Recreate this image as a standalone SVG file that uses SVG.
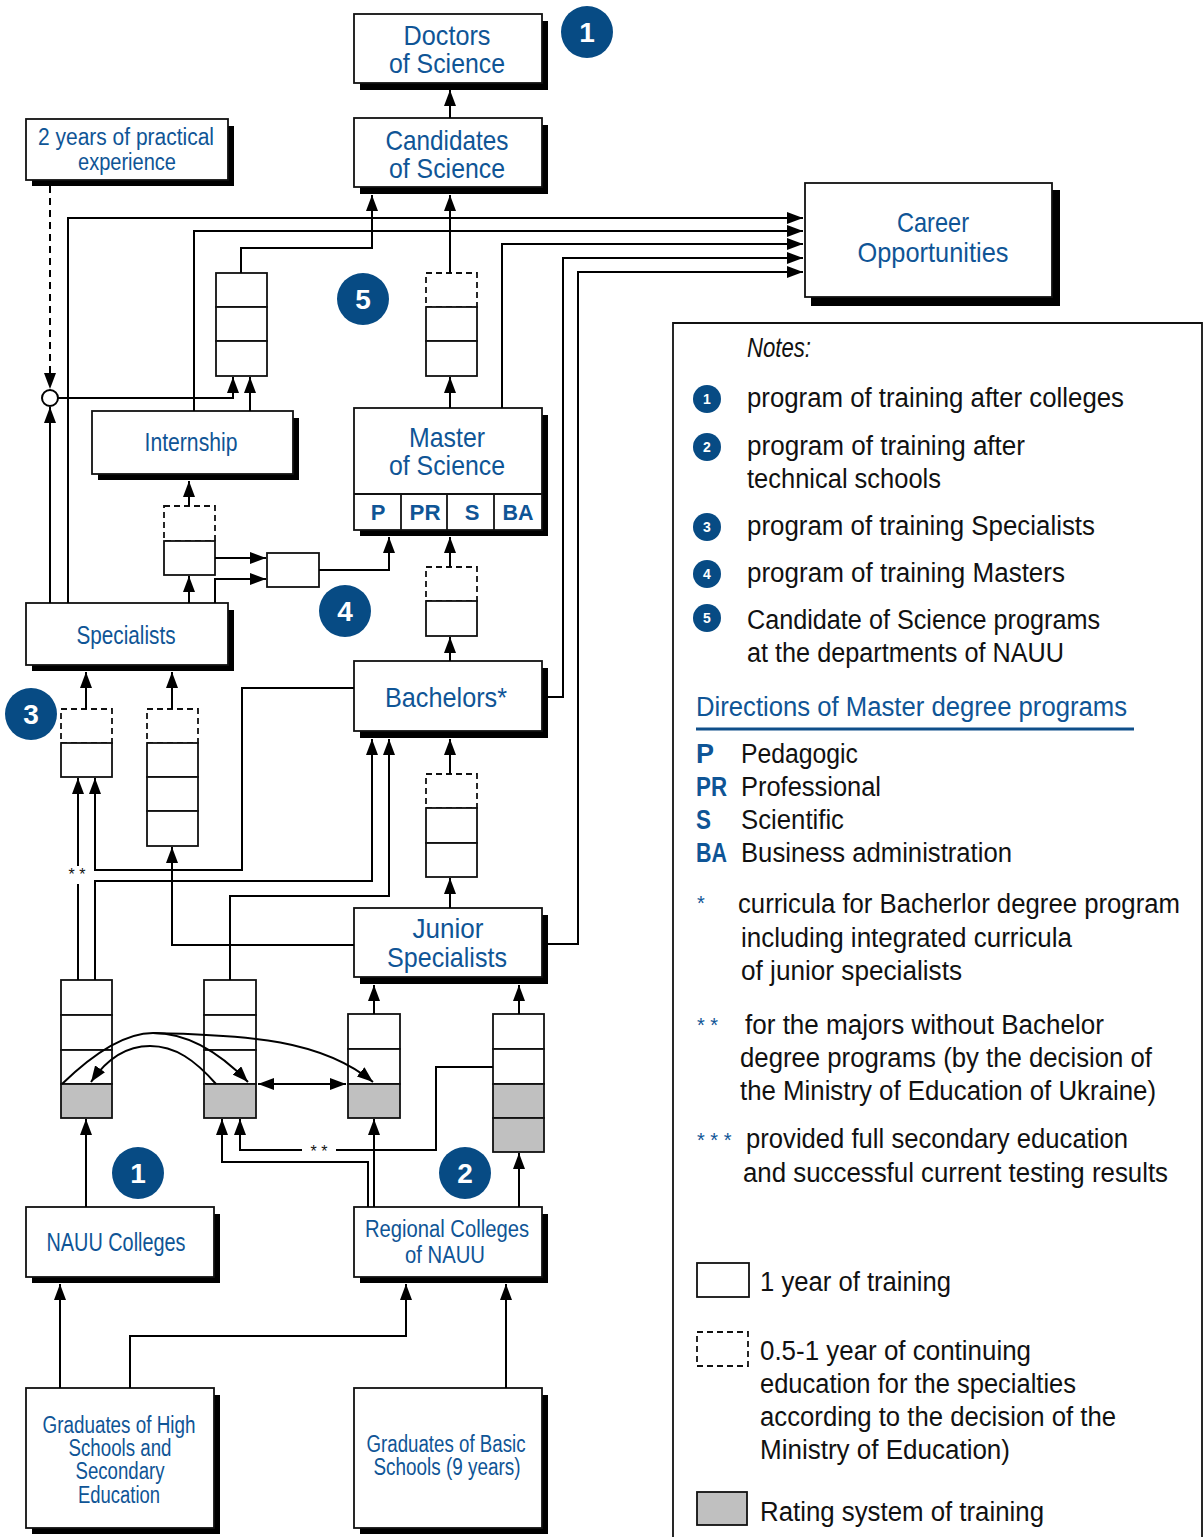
<svg xmlns="http://www.w3.org/2000/svg" width="1204" height="1537" viewBox="0 0 1204 1537">
<style>
.bg{fill:#fff}
.box{fill:#fff;stroke:#111;stroke-width:1.8}
.sh{fill:#000}
.cell{fill:#fff;stroke:#111;stroke-width:1.8}
.dcell{fill:#fff;stroke:#111;stroke-width:1.8;stroke-dasharray:6 4}
.gcell{fill:#c0c0c0;stroke:#111;stroke-width:1.8}
.ln{fill:none;stroke:#000;stroke-width:2}
.arr{marker-end:url(#ah)}
.nt{font-family:"Liberation Sans",Arial,sans-serif;fill:#0f5596;text-anchor:middle}
.big{font-size:28px}
.mid{font-size:25px}
.sm{font-size:23px}
.bd{font-family:"Liberation Sans",Arial,sans-serif;font-weight:bold;fill:#0f5596;text-anchor:middle;font-size:22px}
.badge{fill:#074b84}
.bt{font-family:"Liberation Sans",Arial,sans-serif;font-weight:bold;fill:#fff;text-anchor:middle;font-size:28px}
.sbt{font-family:"Liberation Sans",Arial,sans-serif;font-weight:bold;fill:#fff;text-anchor:middle;font-size:14px}
.note{font-family:"Liberation Sans",Arial,sans-serif;fill:#111;font-size:27px}
.bnote{font-family:"Liberation Sans",Arial,sans-serif;fill:#0f5596;font-size:27px}
.bbold{font-family:"Liberation Sans",Arial,sans-serif;fill:#0f5596;font-size:27px;font-weight:bold}
.star{font-family:"Liberation Sans",Arial,sans-serif;font-size:16px;fill:#111;text-anchor:middle}
.bstar{font-family:"Liberation Sans",Arial,sans-serif;font-size:20px;fill:#0f5596}
</style>
<defs>
<marker id="ah" markerUnits="userSpaceOnUse" markerWidth="16" markerHeight="12" refX="16" refY="6" orient="auto">
<path d="M0,0 L16,6 L0,12 z" fill="#000"/>
</marker>
<marker id="ahs" markerUnits="userSpaceOnUse" markerWidth="16" markerHeight="12" refX="16" refY="6" orient="auto-start-reverse">
<path d="M0,0 L16,6 L0,12 z" fill="#000"/>
</marker>
</defs>
<rect class="bg" x="0" y="0" width="1204" height="1537"/>

<!-- nodes -->
<g id="doctors">
<rect class="sh" x="360" y="21" width="188" height="69"/>
<rect class="box" x="354" y="14" width="188" height="69"/>
<text class="nt big" x="447" y="45" textLength="87" lengthAdjust="spacingAndGlyphs">Doctors</text>
<text class="nt big" x="447" y="73" textLength="116" lengthAdjust="spacingAndGlyphs">of Science</text>
</g>
<g id="candidates">
<rect class="sh" x="360" y="125" width="188" height="69"/>
<rect class="box" x="354" y="118" width="188" height="69"/>
<text class="nt big" x="447" y="150" textLength="123" lengthAdjust="spacingAndGlyphs">Candidates</text>
<text class="nt big" x="447" y="178" textLength="116" lengthAdjust="spacingAndGlyphs">of Science</text>
</g>
<g id="practical">
<rect class="sh" x="32" y="126" width="202" height="60"/>
<rect class="box" x="26" y="119" width="202" height="61"/>
<text class="nt sm" x="126" y="145" textLength="176" lengthAdjust="spacingAndGlyphs">2 years of practical</text>
<text class="nt sm" x="127" y="170" textLength="98" lengthAdjust="spacingAndGlyphs">experience</text>
</g>
<g id="career">
<rect class="sh" x="811" y="190" width="249" height="116"/>
<rect class="box" x="805" y="183" width="247" height="114"/>
<text class="nt big" x="933" y="232" textLength="72" lengthAdjust="spacingAndGlyphs">Career</text>
<text class="nt big" x="933" y="262" textLength="151" lengthAdjust="spacingAndGlyphs">Opportunities</text>
</g>
<g id="stack-cand-left">
<rect class="cell" x="216" y="273" width="51" height="34"/>
<rect class="cell" x="216" y="307" width="51" height="34"/>
<rect class="cell" x="216" y="341" width="51" height="35"/>
</g>
<g id="stack-cand-right">
<rect class="dcell" x="426" y="273" width="51" height="34"/>
<rect class="cell" x="426" y="307" width="51" height="34"/>
<rect class="cell" x="426" y="341" width="51" height="35"/>
</g>
<g id="internship">
<rect class="sh" x="98" y="418" width="201" height="62"/>
<rect class="box" x="92" y="411" width="201" height="63"/>
<text class="nt mid" x="191" y="451" textLength="93" lengthAdjust="spacingAndGlyphs">Internship</text>
</g>
<g id="master">
<rect class="sh" x="360" y="415" width="188" height="121"/>
<rect class="box" x="354" y="408" width="188" height="122"/>
<line x1="354" y1="494" x2="542" y2="494" stroke="#111" stroke-width="1.8"/>
<line x1="401" y1="494" x2="401" y2="530" stroke="#111" stroke-width="1.8"/>
<line x1="447" y1="494" x2="447" y2="530" stroke="#111" stroke-width="1.8"/>
<line x1="494" y1="494" x2="494" y2="530" stroke="#111" stroke-width="1.8"/>
<text class="nt big" x="447" y="447" textLength="76" lengthAdjust="spacingAndGlyphs">Master</text>
<text class="nt big" x="447" y="475" textLength="116" lengthAdjust="spacingAndGlyphs">of Science</text>
<text class="bd" x="378" y="520">P</text>
<text class="bd" x="425" y="520" textLength="31" lengthAdjust="spacingAndGlyphs">PR</text>
<text class="bd" x="472" y="520">S</text>
<text class="bd" x="518" y="520" textLength="31" lengthAdjust="spacingAndGlyphs">BA</text>
</g>
<g id="stack-intern">
<rect class="dcell" x="164" y="506" width="51" height="35"/>
<rect class="cell" x="164" y="541" width="51" height="34"/>
</g>
<g id="box-master">
<rect class="cell" x="267" y="553" width="52" height="34"/>
</g>
<g id="stack-master">
<rect class="dcell" x="426" y="567" width="51" height="34"/>
<rect class="cell" x="426" y="601" width="51" height="35"/>
</g>
<g id="specialists">
<rect class="sh" x="32" y="610" width="202" height="61"/>
<rect class="box" x="26" y="603" width="202" height="62"/>
<text class="nt mid" x="126" y="644" textLength="99" lengthAdjust="spacingAndGlyphs">Specialists</text>
</g>
<g id="bachelors">
<rect class="sh" x="360" y="668" width="188" height="70"/>
<rect class="box" x="354" y="661" width="188" height="70"/>
<text class="nt big" x="446" y="707" textLength="122" lengthAdjust="spacingAndGlyphs">Bachelors*</text>
</g>
<g id="stack-spec-a">
<rect class="dcell" x="61" y="709" width="51" height="34"/>
<rect class="cell" x="61" y="743" width="51" height="34"/>
</g>
<g id="stack-spec-b">
<rect class="dcell" x="147" y="709" width="51" height="34"/>
<rect class="cell" x="147" y="743" width="51" height="34"/>
<rect class="cell" x="147" y="777" width="51" height="34"/>
<rect class="cell" x="147" y="811" width="51" height="35"/>
</g>
<g id="stack-bach">
<rect class="dcell" x="426" y="774" width="51" height="34"/>
<rect class="cell" x="426" y="808" width="51" height="35"/>
<rect class="cell" x="426" y="843" width="51" height="34"/>
</g>
<g id="junior">
<rect class="sh" x="360" y="915" width="188" height="69"/>
<rect class="box" x="354" y="908" width="188" height="69"/>
<text class="nt big" x="448" y="938" textLength="71" lengthAdjust="spacingAndGlyphs">Junior</text>
<text class="nt big" x="447" y="967" textLength="120" lengthAdjust="spacingAndGlyphs">Specialists</text>
</g>
<g id="col1">
<rect class="cell" x="61" y="980" width="51" height="35"/>
<rect class="cell" x="61" y="1015" width="51" height="35"/>
<rect class="cell" x="61" y="1050" width="51" height="34"/>
<rect class="gcell" x="61" y="1084" width="51" height="34"/>
</g>
<g id="col2">
<rect class="cell" x="204" y="980" width="52" height="35"/>
<rect class="cell" x="204" y="1015" width="52" height="35"/>
<rect class="cell" x="204" y="1050" width="52" height="34"/>
<rect class="gcell" x="204" y="1084" width="52" height="34"/>
</g>
<g id="col3">
<rect class="cell" x="348" y="1014" width="52" height="35"/>
<rect class="cell" x="348" y="1049" width="52" height="35"/>
<rect class="gcell" x="348" y="1084" width="52" height="34"/>
</g>
<g id="col4">
<rect class="cell" x="493" y="1014" width="51" height="35"/>
<rect class="cell" x="493" y="1049" width="51" height="35"/>
<rect class="gcell" x="493" y="1084" width="51" height="34"/>
<rect class="gcell" x="493" y="1118" width="51" height="34"/>
</g>
<g id="nauu">
<rect class="sh" x="32" y="1214" width="188" height="69"/>
<rect class="box" x="26" y="1207" width="188" height="70"/>
<text class="nt mid" x="116" y="1251" textLength="139" lengthAdjust="spacingAndGlyphs">NAUU Colleges</text>
</g>
<g id="regional">
<rect class="sh" x="360" y="1214" width="188" height="69"/>
<rect class="box" x="354" y="1207" width="188" height="70"/>
<text class="nt sm" x="447" y="1237" textLength="164" lengthAdjust="spacingAndGlyphs">Regional Colleges</text>
<text class="nt sm" x="445" y="1263" textLength="80" lengthAdjust="spacingAndGlyphs">of NAUU</text>
</g>
<g id="grad-high">
<rect class="sh" x="32" y="1395" width="188" height="139"/>
<rect class="box" x="26" y="1388" width="188" height="140"/>
<text class="nt sm" x="119" y="1433" textLength="153" lengthAdjust="spacingAndGlyphs">Graduates of High</text>
<text class="nt sm" x="120" y="1456" textLength="103" lengthAdjust="spacingAndGlyphs">Schools and</text>
<text class="nt sm" x="120" y="1479" textLength="89" lengthAdjust="spacingAndGlyphs">Secondary</text>
<text class="nt sm" x="119" y="1503" textLength="82" lengthAdjust="spacingAndGlyphs">Education</text>
</g>
<g id="grad-basic">
<rect class="sh" x="360" y="1395" width="188" height="139"/>
<rect class="box" x="354" y="1388" width="188" height="140"/>
<text class="nt sm" x="446" y="1452" textLength="159" lengthAdjust="spacingAndGlyphs">Graduates of Basic</text>
<text class="nt sm" x="447" y="1475" textLength="147" lengthAdjust="spacingAndGlyphs">Schools (9 years)</text>
</g>

<!-- connectors -->
<g id="connectors">
<path class="ln arr" d="M450,118 V90"/>
<path class="ln arr" d="M241,273 V248 H372 V195"/>
<path class="ln arr" d="M450,273 V195"/>
<path class="ln arr" d="M68,603 V218 H803"/>
<path class="ln arr" d="M194,411 V231 H803"/>
<path class="ln arr" d="M502,408 V244 H803"/>
<path class="ln arr" d="M548,697 H563 V258 H803"/>
<path class="ln arr" d="M548,944 H578 V272 H803"/>
<path class="ln arr" d="M50,186 V389" stroke-dasharray="7 5"/>
<path class="ln arr" d="M50,603 V407"/>
<path class="ln arr" d="M58,398 H233 V377"/>
<path class="ln arr" d="M250,411 V377"/>
<path class="ln arr" d="M450,408 V377"/>
<path class="ln arr" d="M189,506 V481"/>
<path class="ln arr" d="M189,603 V576"/>
<path class="ln arr" d="M215,558 H266"/>
<path class="ln arr" d="M215,603 V579 H266"/>
<path class="ln arr" d="M319,570 H389 V537"/>
<path class="ln arr" d="M450,567 V537"/>
<path class="ln arr" d="M450,661 V637"/>
<path class="ln arr" d="M86,709 V672"/>
<path class="ln arr" d="M172,709 V672"/>
<path class="ln" d="M78,980 V884"/>
<path class="ln arr" d="M78,866 V778"/>
<path class="ln arr" d="M354,688 H242 V870 H95 V778"/>
<path class="ln arr" d="M95,980 V881 H372 V739"/>
<path class="ln arr" d="M230,980 V896 H389 V739"/>
<path class="ln arr" d="M354,945 H172 V847"/>
<path class="ln arr" d="M450,774 V739"/>
<path class="ln arr" d="M450,908 V878"/>
<path class="ln arr" d="M374,1014 V985"/>
<path class="ln arr" d="M519,1014 V985"/>
<path class="ln arr" d="M62,1084 C95,1052 125,1033 153,1033 C190,1033 222,1055 248,1082"/>
<path class="ln arr" d="M153,1033 C250,1035 322,1040 373,1082"/>
<path class="ln arr" d="M216,1084 C195,1060 175,1046 150,1046 C125,1046 106,1060 91,1082"/>
<path class="ln" d="M258,1084 H346" marker-start="url(#ahs)" marker-end="url(#ahs)"/>
<path class="ln arr" d="M86,1207 V1119"/>
<path class="ln arr" d="M368,1207 V1162 H222 V1119"/>
<path class="ln arr" d="M374,1207 V1119"/>
<path class="ln arr" d="M519,1207 V1153"/>
<path class="ln" d="M493,1067 H436 V1150 H336"/>
<path class="ln arr" d="M302,1150 H240 V1119"/>
<path class="ln arr" d="M60,1388 V1284"/>
<path class="ln arr" d="M130,1388 V1336 H406 V1284"/>
<path class="ln arr" d="M506,1388 V1284"/>
<circle cx="50" cy="398" r="8" fill="#fff" stroke="#000" stroke-width="2"/>
<text class="star" x="77" y="880">* *</text>
<text class="star" x="319" y="1157">* *</text>
</g>

<!-- badges -->
<g id="badge-1-top"><circle class="badge" cx="587" cy="32" r="26"/><text class="bt" x="587" y="42">1</text></g>
<g id="badge-5"><circle class="badge" cx="363" cy="299" r="26"/><text class="bt" x="363" y="309">5</text></g>
<g id="badge-4"><circle class="badge" cx="345" cy="611" r="26"/><text class="bt" x="345" y="621">4</text></g>
<g id="badge-3"><circle class="badge" cx="31" cy="714" r="26"/><text class="bt" x="31" y="724">3</text></g>
<g id="badge-1-bottom"><circle class="badge" cx="138" cy="1173" r="26"/><text class="bt" x="138" y="1183">1</text></g>
<g id="badge-2"><circle class="badge" cx="465" cy="1173" r="26"/><text class="bt" x="465" y="1183">2</text></g>

<!-- notes -->
<g id="notes">
<path d="M673,1537 V323 H1202 V1537" fill="none" stroke="#111" stroke-width="1.8"/>
<text class="note" x="747" y="357" font-style="italic" textLength="64" lengthAdjust="spacingAndGlyphs">Notes:</text>
<circle class="badge" cx="707" cy="399" r="14"/><text class="sbt" x="707" y="404">1</text>
<text class="note" x="747" y="407" textLength="377" lengthAdjust="spacingAndGlyphs">program of training after colleges</text>
<circle class="badge" cx="707" cy="447" r="14"/><text class="sbt" x="707" y="452">2</text>
<text class="note" x="747" y="455" textLength="278" lengthAdjust="spacingAndGlyphs">program of training after</text>
<text class="note" x="747" y="488" textLength="194" lengthAdjust="spacingAndGlyphs">technical schools</text>
<circle class="badge" cx="707" cy="527" r="14"/><text class="sbt" x="707" y="532">3</text>
<text class="note" x="747" y="535" textLength="348" lengthAdjust="spacingAndGlyphs">program of training Specialists</text>
<circle class="badge" cx="707" cy="574" r="14"/><text class="sbt" x="707" y="579">4</text>
<text class="note" x="747" y="582" textLength="318" lengthAdjust="spacingAndGlyphs">program of training Masters</text>
<circle class="badge" cx="707" cy="618" r="14"/><text class="sbt" x="707" y="623">5</text>
<text class="note" x="747" y="629" textLength="353" lengthAdjust="spacingAndGlyphs">Candidate of Science programs</text>
<text class="note" x="747" y="662" textLength="317" lengthAdjust="spacingAndGlyphs">at the departments of NAUU</text>
<text class="bnote" x="696" y="716" textLength="431" lengthAdjust="spacingAndGlyphs">Directions of Master degree programs</text>
<line x1="696" y1="729" x2="1134" y2="729" stroke="#0f4f8a" stroke-width="3"/>
<text class="bbold" x="696" y="763" textLength="18" lengthAdjust="spacingAndGlyphs">P</text><text class="note" x="741" y="763" textLength="117" lengthAdjust="spacingAndGlyphs">Pedagogic</text>
<text class="bbold" x="696" y="796" textLength="31" lengthAdjust="spacingAndGlyphs">PR</text><text class="note" x="741" y="796" textLength="140" lengthAdjust="spacingAndGlyphs">Professional</text>
<text class="bbold" x="696" y="829" textLength="15" lengthAdjust="spacingAndGlyphs">S</text><text class="note" x="741" y="829" textLength="103" lengthAdjust="spacingAndGlyphs">Scientific</text>
<text class="bbold" x="696" y="862" textLength="31" lengthAdjust="spacingAndGlyphs">BA</text><text class="note" x="741" y="862" textLength="271" lengthAdjust="spacingAndGlyphs">Business administration</text>
<text class="bstar" x="697" y="910">*</text>
<text class="note" x="738" y="913" textLength="442" lengthAdjust="spacingAndGlyphs">curricula for Bacherlor degree program</text>
<text class="note" x="741" y="947" textLength="331" lengthAdjust="spacingAndGlyphs">including integrated curricula</text>
<text class="note" x="741" y="980" textLength="221" lengthAdjust="spacingAndGlyphs">of junior specialists</text>
<text class="bstar" x="697" y="1032">* *</text>
<text class="note" x="745" y="1034" textLength="359" lengthAdjust="spacingAndGlyphs">for the majors without Bachelor</text>
<text class="note" x="740" y="1067" textLength="412" lengthAdjust="spacingAndGlyphs">degree programs (by the decision of</text>
<text class="note" x="740" y="1100" textLength="416" lengthAdjust="spacingAndGlyphs">the Ministry of Education of Ukraine)</text>
<text class="bstar" x="697" y="1147">* * *</text>
<text class="note" x="746" y="1148" textLength="382" lengthAdjust="spacingAndGlyphs">provided full secondary education</text>
<text class="note" x="743" y="1182" textLength="425" lengthAdjust="spacingAndGlyphs">and successful current testing results</text>
<rect class="cell" x="697" y="1263" width="52" height="34"/>
<text class="note" x="760" y="1291" textLength="191" lengthAdjust="spacingAndGlyphs">1 year of training</text>
<rect class="dcell" x="697" y="1332" width="51" height="34"/>
<text class="note" x="760" y="1360" textLength="271" lengthAdjust="spacingAndGlyphs">0.5-1 year of continuing</text>
<text class="note" x="760" y="1393" textLength="316" lengthAdjust="spacingAndGlyphs">education for the specialties</text>
<text class="note" x="760" y="1426" textLength="356" lengthAdjust="spacingAndGlyphs">according to the decision of the</text>
<text class="note" x="760" y="1459" textLength="250" lengthAdjust="spacingAndGlyphs">Ministry of Education)</text>
<rect class="gcell" x="697" y="1492" width="50" height="33"/>
<text class="note" x="760" y="1521" textLength="284" lengthAdjust="spacingAndGlyphs">Rating system of training</text>
</g>
</svg>
